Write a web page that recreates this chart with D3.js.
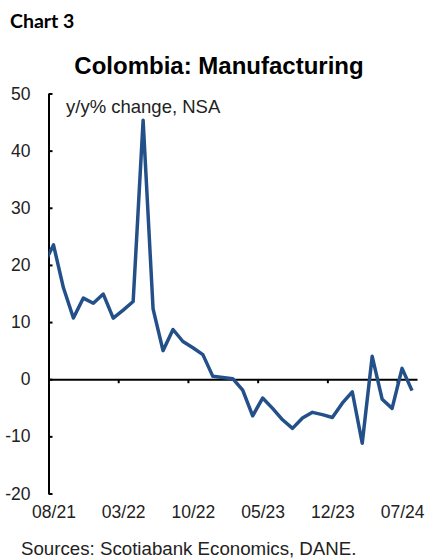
<!DOCTYPE html>
<html>
<head>
<meta charset="utf-8">
<script src="https://cdn.jsdelivr.net/npm/d3@7"></script>
<style>
  body { margin: 0; background: #fff; }
  svg { display: block; }
</style>
</head>
<body>
<div id="chart"></div>
<script>
// Colombia: Manufacturing, y/y% change, NSA

// months from 07/21 (clipped at the axis) to 08/24
const months = ['07/21',
  '08/21', '09/21', '10/21', '11/21', '12/21', '01/22', '02/22', '03/22', '04/22', '05/22',
  '06/22', '07/22', '08/22', '09/22', '10/22', '11/22', '12/22', '01/23', '02/23', '03/23',
  '04/23', '05/23', '06/23', '07/23', '08/23', '09/23', '10/23', '11/23', '12/23', '01/24',
  '02/24', '03/24', '04/24', '05/24', '06/24', '07/24', '08/24'];
const values = [20.0,
  23.5, 16.0, 10.7, 14.2, 13.3, 14.9, 10.7, 12.1, 13.6, 45.3,
  12.3, 5.0, 8.7, 6.6, 5.5, 4.3, 0.5, 0.3, 0.1, -1.9,
  -6.4, -3.3, -5.1, -7.1, -8.6, -6.8, -5.8, -6.2, -6.7, -4.2,
  -2.2, -11.2, 4.0, -3.5, -5.1, 1.9, -2.0];
const xTickLabels = ['08/21', '03/22', '10/22', '05/23', '12/23', '07/24'];
const yTicks = [-20, -10, 0, 10, 20, 30, 40, 50];

const width = 427, height = 560;
const plot = { left: 48.5, right: 417, top: 93.5, bottom: 493.5 };

const svg = d3.select('#chart').append('svg')
  .attr('width', width)
  .attr('height', height)
  .style('font-family', '"Liberation Sans", Arial, sans-serif');

// month index: 08/21 = 0, one band per month
const idx = m => months.indexOf(m) - 1;
const x = d3.scaleLinear().domain([0, 37]).range([plot.left, plot.right]);
const y = d3.scaleLinear().domain([-20, 50]).range([plot.bottom, plot.top]);

// titles
svg.append('text')
  .attr('x', 10).attr('y', 28)
  .style('font-family', 'Lato, "Open Sans", sans-serif')
  .style('font-weight', 'bold')
  .style('font-size', '19.5px')
  .text('Chart 3');

svg.append('text')
  .attr('x', 219).attr('y', 74)
  .attr('text-anchor', 'middle')
  .style('font-weight', 'bold')
  .style('font-size', '24px')
  .text('Colombia: Manufacturing');

// y axis, ticks point inward
const yAxis = svg.append('g')
  .attr('transform', `translate(${plot.left},0)`)
  .call(d3.axisLeft(y).tickValues(yTicks).tickFormat(d => String(d))
    .tickSizeInner(-4).tickSizeOuter(0).tickPadding(18));
yAxis.select('.domain').attr('stroke', '#000').attr('stroke-width', 2);
yAxis.selectAll('.tick line').attr('stroke', '#000').attr('stroke-width', 2);
yAxis.selectAll('.tick text')
  .style('font-size', '17.5px')
  .attr('fill', '#222');

// zero line with month ticks
const xAxis = svg.append('g')
  .attr('transform', `translate(0,${y(0)})`)
  .call(d3.axisBottom(x)
    .tickValues(xTickLabels.map(m => idx(m)).filter(v => v > 0))
    .tickSizeInner(4).tickSizeOuter(0).tickFormat(''));
xAxis.select('.domain').attr('stroke', '#000').attr('stroke-width', 2);
xAxis.selectAll('.tick line').attr('stroke', '#000').attr('stroke-width', 2);

// month labels at the bottom, centred on their month
const xLabels = svg.append('g')
  .attr('transform', `translate(0,${plot.bottom + 12})`)
  .call(d3.axisBottom(x)
    .tickValues(xTickLabels.map(m => idx(m) + 0.5))
    .tickSize(0).tickPadding(0)
    .tickFormat((d, i) => xTickLabels[i]));
xLabels.select('.domain').remove();
xLabels.selectAll('.tick text')
  .style('font-size', '17.5px')
  .attr('fill', '#222');

// series line
svg.append('clipPath').attr('id', 'plot-clip')
  .append('rect')
  .attr('x', plot.left).attr('y', 0)
  .attr('width', plot.right - plot.left).attr('height', height);

const line = d3.line()
  .x((d, i) => x(i - 1 + 0.5))
  .y(d => y(d));

svg.append('path')
  .datum(values)
  .attr('clip-path', 'url(#plot-clip)')
  .attr('fill', 'none')
  .attr('stroke', '#24508a')
  .attr('stroke-width', 3.5)
  .attr('stroke-linejoin', 'round')
  .attr('d', line);

// annotation and source
svg.append('text')
  .attr('x', 66).attr('y', 113)
  .style('font-size', '18.5px')
  .attr('fill', '#222')
  .text('y/y% change, NSA');

svg.append('text')
  .attr('x', 21).attr('y', 555)
  .style('font-size', '18.7px')
  .attr('fill', '#222')
  .text('Sources: Scotiabank Economics, DANE.');
</script>
</body>
</html>
